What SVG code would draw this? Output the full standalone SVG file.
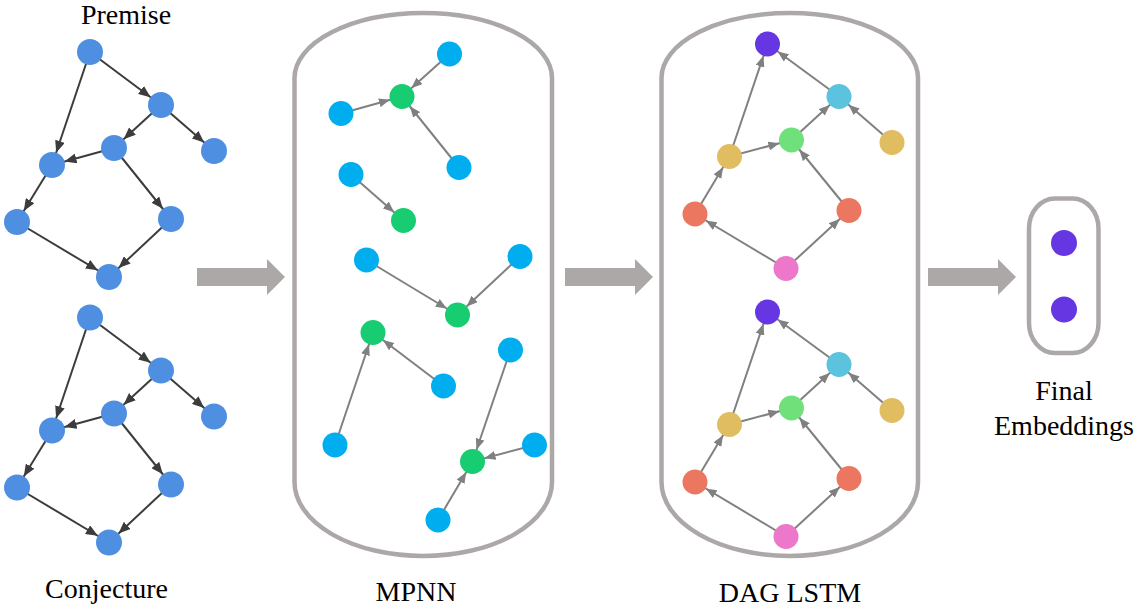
<svg xmlns="http://www.w3.org/2000/svg" width="1137" height="608" viewBox="0 0 1137 608">
<style>
.lbl{font-family:"Liberation Serif","Times New Roman",serif;font-size:28px;fill:#000;text-anchor:middle}
.cap{fill:none;stroke:#aca8a7;stroke-width:4.5}
.big{fill:#aca8a7}
.e1{stroke:#3c3c3c;stroke-width:2;marker-end:url(#h1)}
.e2{stroke:#808080;stroke-width:2;marker-end:url(#h2)}
.nb{fill:#4f8fe2}
.mb{fill:#00aeef}
.mg{fill:#18cc72}
.dp{fill:#6536e2}
.dc{fill:#5bc3dd}
.dg{fill:#70e17a}
.dy{fill:#e1bd62}
.dr{fill:#ec7761}
.dk{fill:#ec77cb}
</style>
<defs>
<marker id="h1" markerUnits="userSpaceOnUse" markerWidth="12" markerHeight="10" viewBox="0 0 12 10" refX="25" refY="5" orient="auto"><path d="M0,0 L12,5 L0,10 z" fill="#3c3c3c"/></marker>
<marker id="h2" markerUnits="userSpaceOnUse" markerWidth="11" markerHeight="9" viewBox="0 0 11 9" refX="23.5" refY="4.5" orient="auto"><path d="M0,0 L11,4.5 L0,9 z" fill="#808080"/></marker>
</defs>
<rect width="1137" height="608" fill="#fff"/>

<g id="containers">
<path class="cap" d="M294.5,78 A128.75,65 0 0 1 552,78 L552,482 A128.75,74 0 0 1 294.5,482 Z"/>
<path class="cap" d="M661.5,78 A128.25,65 0 0 1 918,78 L918,482 A128.25,74 0 0 1 661.5,482 Z"/>
<rect class="cap" x="1029" y="198.5" width="69.5" height="154.5" rx="26" ry="30"/>
</g>

<g id="flow-arrows">
<path class="big" d="M197,268 L267,268 L267,259 L285,277 L267,295 L267,286 L197,286 Z"/>
<path class="big" d="M565,268 L635,268 L635,259 L653,277 L635,295 L635,286 L565,286 Z"/>
<path class="big" d="M928,268 L998,268 L998,259 L1016,277 L998,295 L998,286 L928,286 Z"/>
</g>

<g id="connectors">
<line class="e1" x1="90" y1="52" x2="52" y2="165"/>
<line class="e1" x1="90" y1="52" x2="161" y2="105"/>
<line class="e1" x1="161" y1="105" x2="114" y2="148"/>
<line class="e1" x1="161" y1="105" x2="214" y2="151"/>
<line class="e1" x1="114" y1="148" x2="52" y2="165"/>
<line class="e1" x1="114" y1="148" x2="171" y2="219"/>
<line class="e1" x1="52" y1="165" x2="17" y2="222"/>
<line class="e1" x1="17" y1="222" x2="109" y2="277"/>
<line class="e1" x1="171" y1="219" x2="109" y2="277"/>
<line class="e1" x1="90" y1="317.5" x2="52" y2="430.5"/>
<line class="e1" x1="90" y1="317.5" x2="161" y2="370.5"/>
<line class="e1" x1="161" y1="370.5" x2="114" y2="413.5"/>
<line class="e1" x1="161" y1="370.5" x2="214" y2="416.5"/>
<line class="e1" x1="114" y1="413.5" x2="52" y2="430.5"/>
<line class="e1" x1="114" y1="413.5" x2="171" y2="484.5"/>
<line class="e1" x1="52" y1="430.5" x2="17" y2="487.5"/>
<line class="e1" x1="17" y1="487.5" x2="109" y2="542.5"/>
<line class="e1" x1="171" y1="484.5" x2="109" y2="542.5"/>
<line class="e2" x1="449.5" y1="54" x2="402" y2="96.5"/>
<line class="e2" x1="341" y1="113.5" x2="402" y2="96.5"/>
<line class="e2" x1="459" y1="167.5" x2="402" y2="96.5"/>
<line class="e2" x1="351" y1="174.5" x2="403.5" y2="220.5"/>
<line class="e2" x1="366.5" y1="260" x2="457.5" y2="315"/>
<line class="e2" x1="520" y1="256.5" x2="457.5" y2="315"/>
<line class="e2" x1="335" y1="445" x2="373" y2="332.5"/>
<line class="e2" x1="443.5" y1="386" x2="373" y2="332.5"/>
<line class="e2" x1="510.5" y1="350" x2="472.5" y2="461.5"/>
<line class="e2" x1="534.5" y1="445" x2="472.5" y2="461.5"/>
<line class="e2" x1="438" y1="520" x2="472.5" y2="461.5"/>
<line class="e2" x1="786" y1="268.5" x2="695" y2="214"/>
<line class="e2" x1="786" y1="268.5" x2="849" y2="210.5"/>
<line class="e2" x1="695" y1="214" x2="729.5" y2="156.5"/>
<line class="e2" x1="729.5" y1="156.5" x2="767.5" y2="44"/>
<line class="e2" x1="729.5" y1="156.5" x2="791.5" y2="140"/>
<line class="e2" x1="849" y1="210.5" x2="791.5" y2="140"/>
<line class="e2" x1="791.5" y1="140" x2="839" y2="96.5"/>
<line class="e2" x1="892" y1="142.5" x2="839" y2="96.5"/>
<line class="e2" x1="839" y1="96.5" x2="767.5" y2="44"/>
<line class="e2" x1="786" y1="536.5" x2="695" y2="482"/>
<line class="e2" x1="786" y1="536.5" x2="849" y2="478.5"/>
<line class="e2" x1="695" y1="482" x2="729.5" y2="424.5"/>
<line class="e2" x1="729.5" y1="424.5" x2="767.5" y2="312"/>
<line class="e2" x1="729.5" y1="424.5" x2="791.5" y2="408"/>
<line class="e2" x1="849" y1="478.5" x2="791.5" y2="408"/>
<line class="e2" x1="791.5" y1="408" x2="839" y2="364.5"/>
<line class="e2" x1="892" y1="410.5" x2="839" y2="364.5"/>
<line class="e2" x1="839" y1="364.5" x2="767.5" y2="312"/>
</g>

<g id="premise">
<g id="p-a"><circle class="nb" cx="90" cy="52" r="13"/></g>
<g id="p-b"><circle class="nb" cx="161" cy="105" r="13"/></g>
<g id="p-c"><circle class="nb" cx="114" cy="148" r="13"/></g>
<g id="p-d"><circle class="nb" cx="214" cy="151" r="13"/></g>
<g id="p-e"><circle class="nb" cx="52" cy="165" r="13"/></g>
<g id="p-f"><circle class="nb" cx="17" cy="222" r="13"/></g>
<g id="p-g"><circle class="nb" cx="171" cy="219" r="13"/></g>
<g id="p-h"><circle class="nb" cx="109" cy="277" r="13"/></g>
</g>
<g id="conjecture">
<g id="c-a"><circle class="nb" cx="90" cy="317.5" r="13"/></g>
<g id="c-b"><circle class="nb" cx="161" cy="370.5" r="13"/></g>
<g id="c-c"><circle class="nb" cx="114" cy="413.5" r="13"/></g>
<g id="c-d"><circle class="nb" cx="214" cy="416.5" r="13"/></g>
<g id="c-e"><circle class="nb" cx="52" cy="430.5" r="13"/></g>
<g id="c-f"><circle class="nb" cx="17" cy="487.5" r="13"/></g>
<g id="c-g"><circle class="nb" cx="171" cy="484.5" r="13"/></g>
<g id="c-h"><circle class="nb" cx="109" cy="542.5" r="13"/></g>
</g>

<g id="mpnn">
<g id="m-b1"><circle class="mb" cx="449.5" cy="54" r="12.5"/></g>
<g id="m-g1"><circle class="mg" cx="402" cy="96.5" r="12.5"/></g>
<g id="m-b2"><circle class="mb" cx="341" cy="113.5" r="12.5"/></g>
<g id="m-b3"><circle class="mb" cx="459" cy="167.5" r="12.5"/></g>
<g id="m-b4"><circle class="mb" cx="351" cy="174.5" r="12.5"/></g>
<g id="m-g2"><circle class="mg" cx="403.5" cy="220.5" r="12.5"/></g>
<g id="m-b5"><circle class="mb" cx="366.5" cy="260" r="12.5"/></g>
<g id="m-b6"><circle class="mb" cx="520" cy="256.5" r="12.5"/></g>
<g id="m-g3"><circle class="mg" cx="457.5" cy="315" r="12.5"/></g>
<g id="m-g4"><circle class="mg" cx="373" cy="332.5" r="12.5"/></g>
<g id="m-b7"><circle class="mb" cx="443.5" cy="386" r="12.5"/></g>
<g id="m-b8"><circle class="mb" cx="510.5" cy="350" r="12.5"/></g>
<g id="m-b9"><circle class="mb" cx="335" cy="445" r="12.5"/></g>
<g id="m-g5"><circle class="mg" cx="472.5" cy="461.5" r="12.5"/></g>
<g id="m-b10"><circle class="mb" cx="534.5" cy="445" r="12.5"/></g>
<g id="m-b11"><circle class="mb" cx="438" cy="520" r="12.5"/></g>
</g>

<g id="dag-top">
<g id="dt-p"><circle class="dp" cx="767.5" cy="44" r="12.5"/></g>
<g id="dt-c"><circle class="dc" cx="839" cy="96.5" r="12.5"/></g>
<g id="dt-g"><circle class="dg" cx="791.5" cy="140" r="12.5"/></g>
<g id="dt-y1"><circle class="dy" cx="729.5" cy="156.5" r="12.5"/></g>
<g id="dt-y2"><circle class="dy" cx="892" cy="142.5" r="12.5"/></g>
<g id="dt-r1"><circle class="dr" cx="695" cy="214" r="12.5"/></g>
<g id="dt-r2"><circle class="dr" cx="849" cy="210.5" r="12.5"/></g>
<g id="dt-k"><circle class="dk" cx="786" cy="268.5" r="12.5"/></g>
</g>
<g id="dag-bottom">
<g id="db-p"><circle class="dp" cx="767.5" cy="312" r="12.5"/></g>
<g id="db-c"><circle class="dc" cx="839" cy="364.5" r="12.5"/></g>
<g id="db-g"><circle class="dg" cx="791.5" cy="408" r="12.5"/></g>
<g id="db-y1"><circle class="dy" cx="729.5" cy="424.5" r="12.5"/></g>
<g id="db-y2"><circle class="dy" cx="892" cy="410.5" r="12.5"/></g>
<g id="db-r1"><circle class="dr" cx="695" cy="482" r="12.5"/></g>
<g id="db-r2"><circle class="dr" cx="849" cy="478.5" r="12.5"/></g>
<g id="db-k"><circle class="dk" cx="786" cy="536.5" r="12.5"/></g>
</g>

<g id="final">
<g id="f-1"><circle class="dp" cx="1064" cy="243" r="13"/></g>
<g id="f-2"><circle class="dp" cx="1064" cy="309.5" r="13"/></g>
</g>

<g id="labels">
<text class="lbl" x="126" y="24">Premise</text>
<text class="lbl" x="106.5" y="598">Conjecture</text>
<text class="lbl" x="416" y="601">MPNN</text>
<text class="lbl" x="790" y="602">DAG LSTM</text>
<text class="lbl" x="1064" y="400">Final</text>
<text class="lbl" x="1064" y="435">Embeddings</text>
</g>
</svg>
